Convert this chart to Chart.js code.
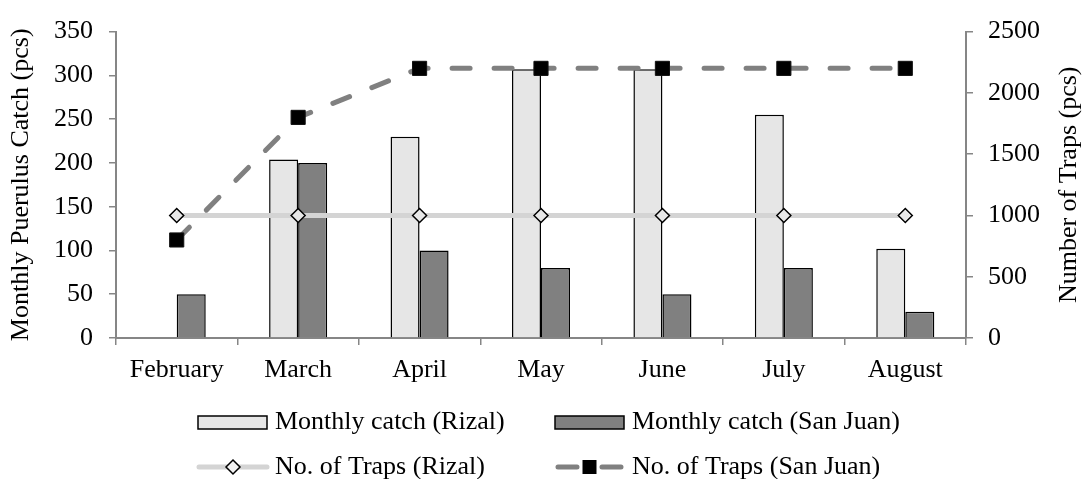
<!DOCTYPE html>
<html>
<head>
<meta charset="utf-8">
<script src="https://cdn.jsdelivr.net/npm/chart.js@4.4.1/dist/chart.umd.min.js"></script>
<style>
  html, body { margin: 0; padding: 0; background: #fff; }
  #wrap { width: 1083px; height: 479px; position: relative; }
</style>
</head>
<body>
<div id="wrap"><canvas id="chart" width="1083" height="479"></canvas></div>
<script>
// data
const months = ['February', 'March', 'April', 'May', 'June', 'July', 'August'];
const catchRizal = [null, 204, 230, 307, 307, 255, 102];
const catchSanJuan = [50, 200, 100, 80, 50, 80, 30];
const trapsRizal = [1000, 1000, 1000, 1000, 1000, 1000, 1000];
const trapsSanJuan = [800, 1800, 2200, 2200, 2200, 2200, 2200];
const catchTicks = [0, 50, 100, 150, 200, 250, 300, 350];
const trapTicks = [0, 500, 1000, 1500, 2000, 2500];

const leftTitle = 'Monthly Puerulus Catch (pcs)';
const rightTitle = 'Number of Traps (pcs)';

const FONT_FAMILY = "'Liberation Serif', 'Times New Roman', serif";
const FONT_SIZE = 26;
const AXIS_GRAY = '#868686';
const LIGHT = '#e6e6e6';
const DARK = '#808080';
const LINE_LIGHT = '#d4d4d4';

Chart.defaults.font.family = FONT_FAMILY;
Chart.defaults.font.size = FONT_SIZE;
Chart.defaults.color = '#000';

function fixTicks(values) {
  return function (scale) {
    scale.ticks = values.map(v => ({value: v}));
  };
}

// axis titles + two-row legend, drawn straight on the canvas
const extras = {
  id: 'extras',
  afterDraw(chart) {
    const {ctx, chartArea} = chart;
    const midY = (chartArea.top + chartArea.bottom) / 2;
    ctx.save();
    ctx.font = FONT_SIZE + 'px ' + FONT_FAMILY;
    ctx.fillStyle = '#000';
    ctx.textAlign = 'center';
    ctx.textBaseline = 'middle';

    ctx.save();
    ctx.translate(21, midY);
    ctx.rotate(-Math.PI / 2);
    ctx.fillText(leftTitle, 0, 0);
    ctx.restore();

    ctx.save();
    ctx.translate(1069, midY);
    ctx.rotate(-Math.PI / 2);
    ctx.fillText(rightTitle, 0, 0);
    ctx.restore();

    const ds = chart.data.datasets;
    ctx.textAlign = 'left';

    // row 1: bars
    const row1 = 422.5, row2 = 467;
    [[ds[2], 198, 275], [ds[3], 555, 632]].forEach(([d, x, tx]) => {
      ctx.fillStyle = d.backgroundColor;
      ctx.strokeStyle = '#000';
      ctx.lineWidth = 1.5;
      ctx.fillRect(x, row1 - 6.5, 69, 13);
      ctx.strokeRect(x, row1 - 6.5, 69, 13);
      ctx.fillStyle = '#000';
      ctx.fillText(d.label, tx, row1);
    });

    // row 2: lines
    ctx.lineCap = 'round';
    // Rizal traps
    ctx.strokeStyle = LINE_LIGHT;
    ctx.lineWidth = 5;
    ctx.beginPath();
    ctx.moveTo(199, row2); ctx.lineTo(267, row2);
    ctx.stroke();
    ctx.beginPath();
    ctx.moveTo(233, row2 - 7); ctx.lineTo(240, row2); ctx.lineTo(233, row2 + 7); ctx.lineTo(226, row2);
    ctx.closePath();
    ctx.fillStyle = '#f2f2f2';
    ctx.fill();
    ctx.strokeStyle = '#000';
    ctx.lineWidth = 1.5;
    ctx.stroke();
    ctx.fillStyle = '#000';
    ctx.fillText(ds[1].label, 275, row2);

    // San Juan traps
    ctx.strokeStyle = DARK;
    ctx.lineWidth = 5;
    ctx.beginPath();
    ctx.moveTo(558, row2); ctx.lineTo(577, row2);
    ctx.moveTo(602, row2); ctx.lineTo(621, row2);
    ctx.stroke();
    ctx.fillStyle = '#000';
    ctx.fillRect(589.5 - 7, row2 - 7, 14, 14);
    ctx.fillText(ds[0].label, 632, row2);

    ctx.restore();
  }
};

new Chart(document.getElementById('chart'), {
  type: 'bar',
  data: {
    labels: months,
    datasets: [
      {
        type: 'line',
        label: 'No. of Traps (San Juan)',
        data: trapsSanJuan,
        yAxisID: 'y1',
        order: 0,
        borderColor: DARK,
        borderWidth: 5,
        borderDash: [18, 24],
        borderCapStyle: 'round',
        tension: 0,
        fill: false,
        pointStyle: 'rect',
        pointRadius: 10,
        pointHoverRadius: 10,
        pointBackgroundColor: '#000',
        pointBorderColor: '#111',
        pointBorderWidth: 1
      },
      {
        type: 'line',
        label: 'No. of Traps (Rizal)',
        data: trapsRizal,
        yAxisID: 'y1',
        order: 1,
        borderColor: LINE_LIGHT,
        borderWidth: 5,
        tension: 0,
        fill: false,
        pointStyle: 'rectRot',
        pointRadius: 7,
        pointHoverRadius: 7,
        pointBackgroundColor: '#e8e8e8',
        pointBorderColor: '#000',
        pointBorderWidth: 1.5
      },
      {
        label: 'Monthly catch (Rizal)',
        data: catchRizal,
        yAxisID: 'y',
        order: 2,
        backgroundColor: LIGHT,
        borderColor: '#000',
        borderWidth: 1.5,
        categoryPercentage: 0.478,
        barPercentage: 1
      },
      {
        label: 'Monthly catch (San Juan)',
        data: catchSanJuan,
        yAxisID: 'y',
        order: 3,
        backgroundColor: DARK,
        borderColor: '#000',
        borderWidth: 1.5,
        categoryPercentage: 0.478,
        barPercentage: 1
      }
    ]
  },
  options: {
    responsive: false,
    animation: false,
    layout: {padding: {top: 22.7, bottom: 91, left: 0, right: 0}},
    plugins: {
      legend: {display: false},
      tooltip: {enabled: false}
    },
    scales: {
      x: {
        offset: true,
        grid: {
          offset: true,
          drawOnChartArea: false,
          drawTicks: true,
          tickLength: 7,
          color: AXIS_GRAY,
          lineWidth: 1.5
        },
        border: {color: AXIS_GRAY, width: 2},
        ticks: {padding: 10, maxRotation: 0, autoSkip: false},
        afterFit(scale) { scale.height = 50; }
      },
      y: {
        position: 'left',
        min: 0,
        max: 350,
        afterBuildTicks: fixTicks(catchTicks),
        grid: {
          drawOnChartArea: false,
          drawTicks: true,
          tickLength: 7,
          color: AXIS_GRAY,
          lineWidth: 1.5
        },
        border: {color: AXIS_GRAY, width: 2},
        ticks: {padding: 16, callback: v => String(v)},
        afterFit(scale) { scale.width = 116; }
      },
      y1: {
        position: 'right',
        min: 0,
        max: 2500,
        afterBuildTicks: fixTicks(trapTicks),
        grid: {
          drawOnChartArea: false,
          drawTicks: true,
          tickLength: 7,
          color: AXIS_GRAY,
          lineWidth: 1.5
        },
        border: {color: AXIS_GRAY, width: 2},
        ticks: {padding: 15, callback: v => String(v)},
        afterFit(scale) { scale.width = 117; }
      }
    }
  },
  plugins: [extras]
});
</script>
</body>
</html>
